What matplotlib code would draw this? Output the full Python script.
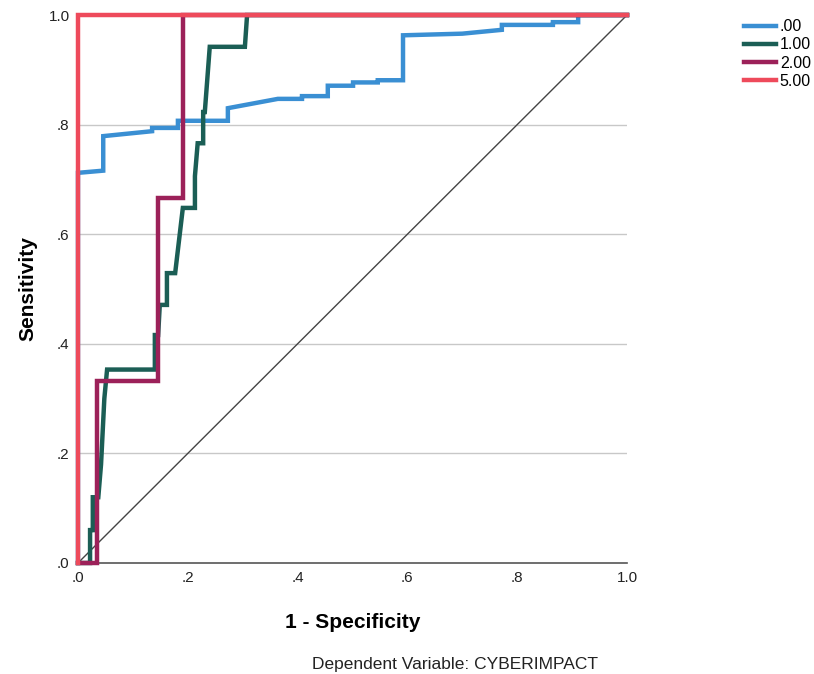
import matplotlib
matplotlib.use("Agg")
import matplotlib.pyplot as plt

plt.rcParams["font.family"] = ["Liberation Sans", "DejaVu Sans"]

# ROC step curves (1 - specificity, sensitivity)
fpr_00 = [0.0, 0.0, 0.046, 0.046, 0.135, 0.135, 0.182, 0.182, 0.273, 0.273, 0.364,
          0.364, 0.408, 0.408, 0.455, 0.455, 0.501, 0.501, 0.546, 0.546, 0.592,
          0.592, 0.70, 0.772, 0.772, 0.865, 0.865, 0.911, 0.911, 1.0]
tpr_00 = [0.0, 0.712, 0.716, 0.779, 0.788, 0.794, 0.794, 0.807, 0.807, 0.830, 0.847,
          0.847, 0.847, 0.852, 0.852, 0.871, 0.871, 0.877, 0.877, 0.881, 0.881,
          0.963, 0.966, 0.973, 0.982, 0.982, 0.987, 0.987, 1.0, 1.0]

fpr_10 = [0.0, 0.022, 0.022, 0.027, 0.027, 0.037, 0.042, 0.048, 0.053, 0.140,
          0.140, 0.146, 0.149, 0.162, 0.162, 0.177, 0.191, 0.213, 0.213, 0.218,
          0.228, 0.228, 0.231, 0.240, 0.304, 0.308, 1.0]
tpr_10 = [0.0, 0.0, 0.06, 0.06, 0.12, 0.12, 0.18, 0.30, 0.353, 0.353,
          0.416, 0.416, 0.471, 0.471, 0.529, 0.529, 0.648, 0.648, 0.706, 0.766,
          0.766, 0.823, 0.823, 0.942, 0.942, 1.0, 1.0]

fpr_20 = [0.0, 0.035, 0.035, 0.146, 0.146, 0.191, 0.191, 1.0]
tpr_20 = [0.0, 0.0, 0.333, 0.333, 0.667, 0.667, 1.0, 1.0]

fpr_50 = [0.0, 0.0, 1.0]
tpr_50 = [0.0, 1.0, 1.0]

labels = [".00", "1.00", "2.00", "5.00"]
colors = ["#3a8fd3", "#1b5e55", "#9c2159", "#ee4a5b"]

fig = plt.figure(figsize=(8.14, 6.74), dpi=100)
ax = fig.add_axes([0.0958, 0.1647, 0.6745, 0.813])

for v in [0.2, 0.4, 0.6, 0.8]:
    ax.axhline(v, color="#c8c8c8", lw=1.0, zorder=0)

ax.plot([0, 1], [0, 1], color="#444444", lw=1.0, zorder=1)

series = [(fpr_00, tpr_00), (fpr_10, tpr_10), (fpr_20, tpr_20), (fpr_50, tpr_50)]
for (x, y), lab, c in zip(series, labels, colors):
    ax.plot(x, y, color=c, lw=3.2, label=lab, clip_on=False,
            solid_joinstyle="miter", zorder=3)

ax.set_xlim(0, 1)
ax.set_ylim(0, 1)
ticks = [0, 0.2, 0.4, 0.6, 0.8, 1.0]
tick_labels = [".0", ".2", ".4", ".6", ".8", "1.0"]
ax.set_xticks(ticks, tick_labels)
ax.set_yticks(ticks, tick_labels)
ax.tick_params(length=0, labelsize=11, colors="#222222", pad=6)
for side in ["top", "right", "left"]:
    ax.spines[side].set_visible(False)
ax.spines["bottom"].set_color("#555555")
ax.spines["bottom"].set_linewidth(1.2)

ax.set_xlabel("1 - Specificity", fontsize=15, fontweight="bold", labelpad=20)
ax.set_ylabel("Sensitivity", fontsize=15, fontweight="bold", labelpad=8)

fig.legend(loc="upper left", bbox_to_anchor=(0.906, 0.981), frameon=False,
           fontsize=11.5, handlelength=2.0, handletextpad=0.25, labelspacing=0.2,
           borderaxespad=0.2, borderpad=0.2)

fig.text(0.559, 0.008, "Dependent Variable: CYBERIMPACT", ha="center",
         fontsize=12.5, color="#222222")

fig.savefig("out.png", dpi=100)
